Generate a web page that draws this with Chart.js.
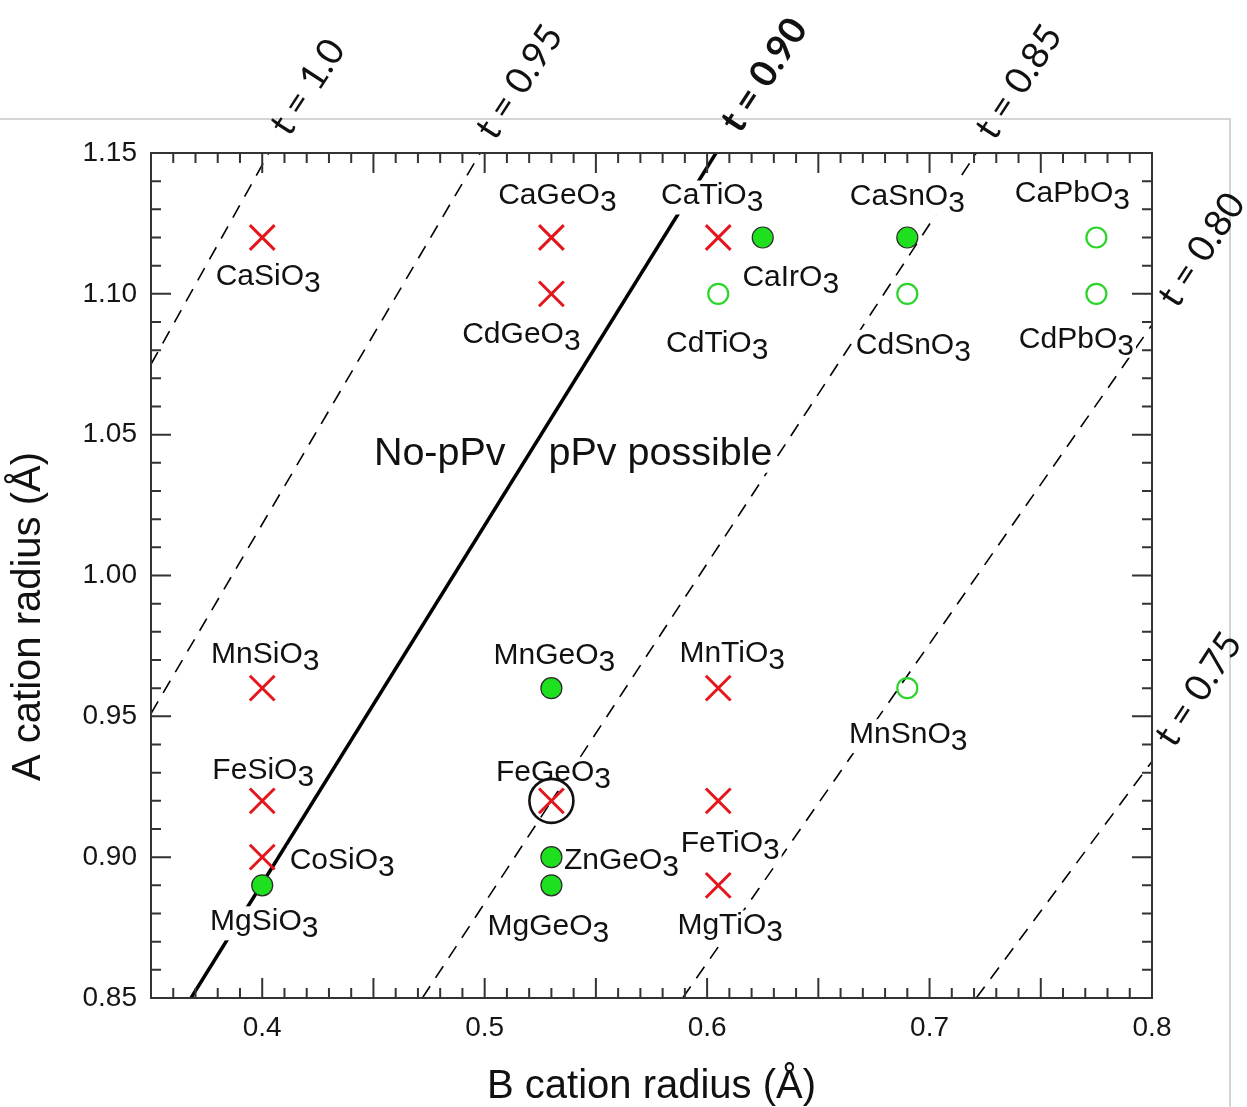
<!DOCTYPE html>
<html>
<head>
<meta charset="utf-8">
<title>ABO3 cation radii and post-perovskite</title>
<script src="https://cdn.jsdelivr.net/npm/chart.js@4.4.1/dist/chart.umd.min.js"></script>
<style>
  html, body { margin: 0; padding: 0; background: #fff; }
  canvas { display: block; }
</style>
</head>
<body>
<canvas id="chart" width="1247" height="1107"></canvas>
<script>
// ABO3 compounds: B cation radius (x) against A cation radius (y), in Å
const compounds = ['CaSiO3', 'MnSiO3', 'FeSiO3', 'CoSiO3', 'MgSiO3',
  'CaGeO3', 'CdGeO3', 'MnGeO3', 'FeGeO3', 'ZnGeO3', 'MgGeO3',
  'CaTiO3', 'CdTiO3', 'MnTiO3', 'FeTiO3', 'MgTiO3', 'CaIrO3',
  'CaSnO3', 'CdSnO3', 'MnSnO3', 'CaPbO3', 'CdPbO3'];
const bRadius = [0.40, 0.40, 0.40, 0.40, 0.40,
  0.53, 0.53, 0.53, 0.53, 0.53, 0.53,
  0.605, 0.605, 0.605, 0.605, 0.605, 0.625,
  0.69, 0.69, 0.69, 0.775, 0.775];
const aRadius = [1.12, 0.96, 0.92, 0.90, 0.89,
  1.12, 1.10, 0.96, 0.92, 0.90, 0.89,
  1.12, 1.10, 0.96, 0.92, 0.89, 1.12,
  1.12, 1.10, 0.96, 1.12, 1.10];
// none = no pPv phase, ppv = pPv found, pred = pPv predicted
const phase = ['none', 'none', 'none', 'none', 'ppv',
  'none', 'none', 'ppv', 'none', 'ppv', 'ppv',
  'none', 'pred', 'none', 'none', 'none', 'ppv',
  'ppv', 'pred', 'pred', 'pred', 'pred'];
const circled = ['FeGeO3'];

// tolerance factor lines, by where each one crosses the plot frame
const tValues = ['1.0', '0.95', '0.90', '0.85', '0.80', '0.75'];
const tFrom = [[0.35, 1.075], [0.35, 0.951], [0.368, 0.85], [0.472, 0.85], [0.589, 0.85], [0.721, 0.85]];
const tTo = [[0.403, 1.15], [0.498, 1.15], [0.604, 1.15], [0.721, 1.15], [0.80, 1.089], [0.80, 0.934]];

const regionNames = ['No-pPv', 'pPv possible'];

// --- placement of the annotations ---
// label centre relative to its marker, px
const labelOffset = {
  CaSiO3: [6, 37], MnSiO3: [3, -36], FeSiO3: [1, -33], CoSiO3: [80, 1], MgSiO3: [2, 34],
  CaGeO3: [6, -44], CdGeO3: [-30, 38], MnGeO3: [3, -35], FeGeO3: [2, -31], ZnGeO3: [70, 1], MgGeO3: [-3, 39],
  CaTiO3: [-6, -44], CdTiO3: [-1, 47], MnTiO3: [14, -37], FeTiO3: [12, 40], MgTiO3: [12, 38],
  CaIrO3: [28, 38], CaSnO3: [0, -43], CdSnO3: [6, 49], MnSnO3: [1, 44], CaPbO3: [-24, -46], CdPbO3: [-20, 43]
};
// t labels sit beyond the frame, in data units
const tLabelAt = [[0.4205, 1.1734], [0.5157, 1.1752], [0.6257, 1.1777], [0.7402, 1.1752], [0.8224, 1.1156], [0.8210, 0.9596]];
const regionAt = [[0.4798, 1.0443], [0.579, 1.0443]];

const SANS = '"Liberation Sans", Arial, Helvetica, sans-serif';
const RED = '#e4161c';
const GREEN = '#1fe01f';

function pick(kind) {
  const pts = [];
  compounds.forEach((c, i) => { if (phase[i] === kind) pts.push({ x: bRadius[i], y: aRadius[i] }); });
  return pts;
}

const lineSets = tValues.map((t, i) => ({
  label: 't = ' + t,
  data: [{ x: tFrom[i][0], y: tFrom[i][1] }, { x: tTo[i][0], y: tTo[i][1] }],
  showLine: true,
  borderColor: '#000',
  borderWidth: t === '0.90' ? 3.5 : 1.6,
  borderDash: t === '0.90' ? [] : [14, 10],
  pointRadius: 0,
  order: 5
}));

const pointSets = [
  { label: 'none', data: pick('none'), pointStyle: 'crossRot', pointRadius: 17.5,
    borderColor: RED, borderWidth: 3, order: 1 },
  { label: 'ppv', data: pick('ppv'), pointStyle: 'circle', pointRadius: 10.5,
    backgroundColor: GREEN, borderColor: '#2b2b2b', borderWidth: 1.2, order: 1 },
  { label: 'pred', data: pick('pred'), pointStyle: 'circle', pointRadius: 10,
    backgroundColor: 'rgba(0,0,0,0)', borderColor: '#2cd42c', borderWidth: 2.2, order: 1 },
  { label: 'ring', data: compounds.map((c, i) => circled.includes(c) ? { x: bRadius[i], y: aRadius[i] } : null).filter(Boolean),
    pointStyle: 'circle', pointRadius: 22, backgroundColor: 'rgba(0,0,0,0)',
    borderColor: '#111', borderWidth: 2.6, order: 0 }
];

// text with a trailing subscript "3", white behind it so lines break around it
function formula(ctx, name, cx, cy) {
  const main = name.slice(0, -1), sub = name.slice(-1);
  ctx.font = '30px ' + SANS;
  const wMain = ctx.measureText(main).width, wSub = ctx.measureText(sub).width;
  const left = cx - (wMain + wSub) / 2;
  ctx.fillStyle = '#fff';
  ctx.fillRect(left - 2, cy - 13, wMain + wSub + 4, 34);
  ctx.fillStyle = '#111';
  ctx.textAlign = 'left';
  ctx.textBaseline = 'alphabetic';
  ctx.fillText(main, left, cy + 10.7);
  ctx.fillText(sub, left + wMain, cy + 17.7);
}

let labelsDone = false;
const decor = {
  id: 'decor',
  beforeDraw(chart) {
    const { ctx, chartArea: a } = chart;
    ctx.save();
    ctx.strokeStyle = '#c8c8c8';
    ctx.lineWidth = 1.5;
    ctx.beginPath();
    ctx.moveTo(0, a.top - 34);
    ctx.lineTo(a.right + 78, a.top - 34);
    ctx.lineTo(a.right + 78, chart.height);
    ctx.stroke();
    ctx.restore();
  },
  beforeDatasetsDraw() { labelsDone = false; },
  beforeDatasetDraw(chart, args) {
    if (labelsDone || args.meta.order !== 1) return;
    labelsDone = true;
    const { ctx, scales: { x, y } } = chart;
    ctx.save();
    compounds.forEach((c, i) => {
      const off = labelOffset[c];
      formula(ctx, c, x.getPixelForValue(bRadius[i]) + off[0], y.getPixelForValue(aRadius[i]) + off[1]);
    });
    ctx.font = '39.5px ' + SANS;
    ctx.textAlign = 'center';
    ctx.textBaseline = 'alphabetic';
    regionNames.forEach((r, i) => {
      const cx = x.getPixelForValue(regionAt[i][0]), cy = y.getPixelForValue(regionAt[i][1]);
      const w = ctx.measureText(r).width;
      ctx.fillStyle = '#fff';
      ctx.fillRect(cx - w / 2 - 2, cy - 16, w + 4, 38);
      ctx.fillStyle = '#111';
      ctx.fillText(r, cx, cy + 14);
    });
    ctx.restore();
  },
  afterDatasetsDraw(chart) {
    const { ctx, chartArea: a, scales: { x, y } } = chart;
    ctx.save();
    ctx.strokeStyle = '#333';
    ctx.lineWidth = 2;
    ctx.beginPath();
    for (let i = 35; i <= 80; i++) {
      const px = x.getPixelForValue(i / 100);
      const len = i % 5 === 0 ? 20 : 10;
      ctx.moveTo(px, a.bottom); ctx.lineTo(px, a.bottom - len);
      ctx.moveTo(px, a.top); ctx.lineTo(px, a.top + len);
    }
    for (let i = 85; i <= 115; i++) {
      const py = y.getPixelForValue(i / 100);
      const len = i % 5 === 0 ? 20 : 10;
      ctx.moveTo(a.left, py); ctx.lineTo(a.left + len, py);
      ctx.moveTo(a.right, py); ctx.lineTo(a.right - len, py);
    }
    ctx.stroke();
    ctx.strokeRect(a.left, a.top, a.right - a.left, a.bottom - a.top);
    ctx.restore();
  },
  afterDraw(chart) {
    const { ctx, chartArea: a, scales: { x, y } } = chart;
    ctx.save();
    // t = ... labels along the tolerance lines
    tValues.forEach((t, i) => {
      ctx.save();
      ctx.translate(x.getPixelForValue(tLabelAt[i][0]), y.getPixelForValue(tLabelAt[i][1]));
      ctx.rotate(-57 * Math.PI / 180);
      ctx.font = (t === '0.90' ? 'bold ' : '') + '37px Lato, "Open Sans", sans-serif';
      ctx.fillStyle = '#111';
      ctx.textAlign = 'center';
      ctx.textBaseline = 'middle';
      ctx.fillText('t = ' + t, 0, 0);
      ctx.restore();
    });
    // y axis title
    ctx.translate(y.left + 29, (a.top + a.bottom) / 2 + 41);
    ctx.rotate(-Math.PI / 2);
    ctx.font = '40px ' + SANS;
    ctx.fillStyle = '#111';
    ctx.textAlign = 'center';
    ctx.textBaseline = 'middle';
    ctx.fillText('A cation radius (Å)', 0, 0);
    ctx.restore();
  }
};

new Chart(document.getElementById('chart'), {
  type: 'scatter',
  data: { datasets: [...lineSets, ...pointSets] },
  options: {
    responsive: false,
    animation: false,
    events: [],
    layout: { padding: { top: 153, right: 95, left: 0, bottom: 0 } },
    plugins: { legend: { display: false }, tooltip: { enabled: false } },
    scales: {
      x: {
        type: 'linear', min: 0.35, max: 0.8,
        grid: { display: false, drawTicks: false },
        border: { display: false },
        ticks: {
          stepSize: 0.1, padding: 13, color: '#151515', maxRotation: 0,
          font: { family: SANS, size: 28 },
          callback: v => Math.abs(v * 10 - Math.round(v * 10)) < 1e-6 ? v.toFixed(1) : ''
        },
        title: { display: true, text: 'B cation radius (Å)', color: '#111',
          font: { family: SANS, size: 40 }, padding: { top: 0, bottom: -4 } },
        afterFit: s => { s.height = 109; }
      },
      y: {
        type: 'linear', min: 0.85, max: 1.15,
        grid: { display: false, drawTicks: false },
        border: { display: false },
        ticks: {
          stepSize: 0.05, padding: 14, color: '#151515',
          font: { family: SANS, size: 28 },
          callback: v => v.toFixed(2)
        },
        afterFit: s => { s.width = 151; }
      }
    }
  },
  plugins: [decor]
});
</script>
</body>
</html>
